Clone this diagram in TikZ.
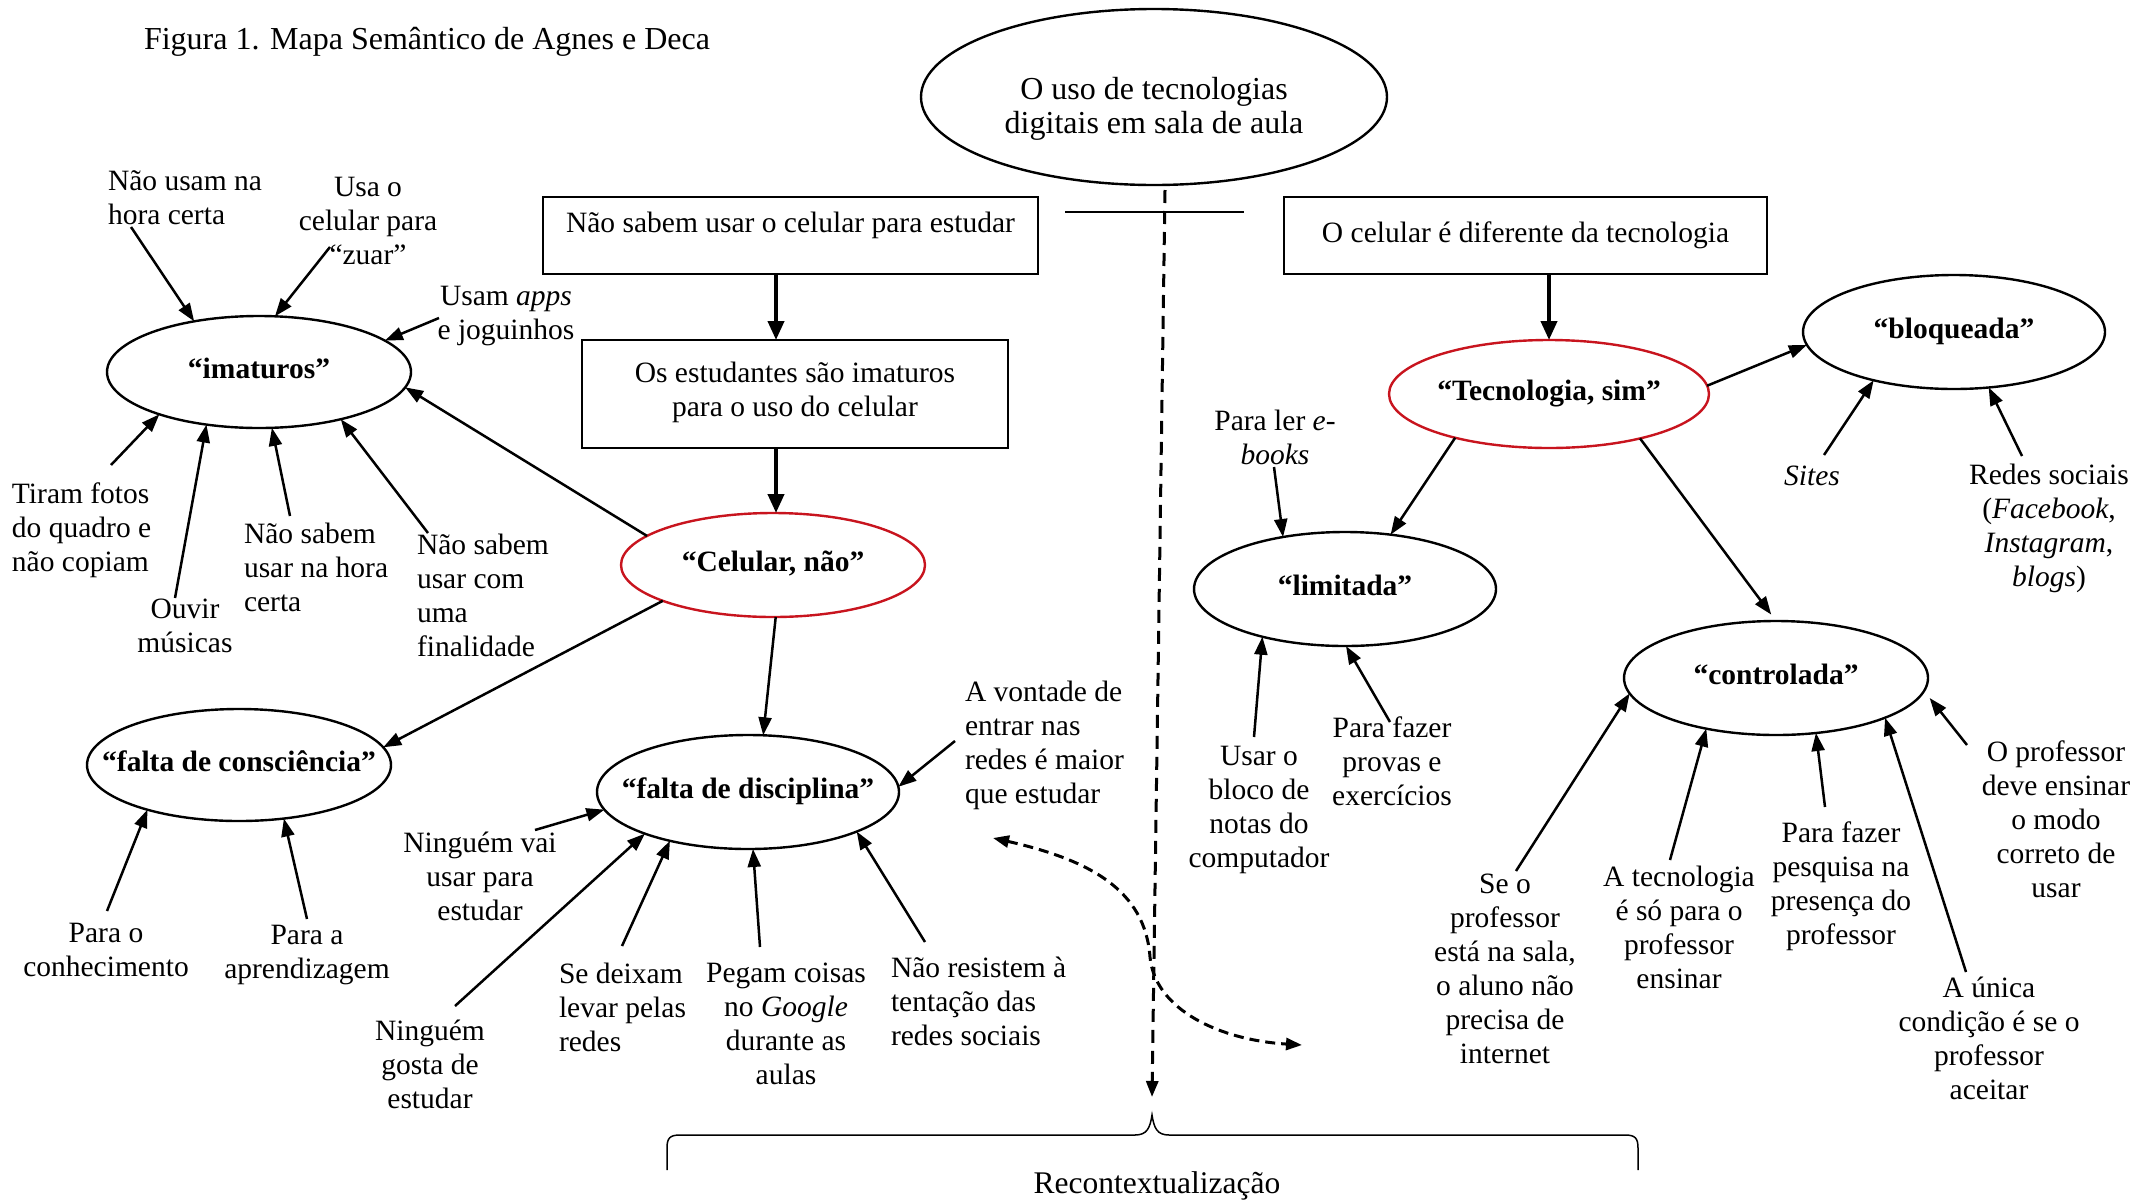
\documentclass[tikz,border=0pt]{standalone}
\usepackage{fontspec}
\setmainfont{Liberation Serif}
\usetikzlibrary{arrows.meta,shapes.geometric}

\definecolor{ovalred}{RGB}{200,20,30}

\begin{document}
\begin{tikzpicture}[x=1pt,y=-1pt,
  every node/.style={inner sep=0pt, outer sep=0pt},
  txt/.style={font=\fontsize{29.5}{34}\selectfont,
    execute at begin node=\strut, execute at end node=\strut},
  lbl/.style={txt, align=center, yshift=-4pt},
  lbll/.style={txt, align=left, anchor=west, yshift=-4pt},
  oval/.style={draw, line width=2.4pt, ellipse, txt,
    font=\fontsize{29.5}{34}\selectfont\bfseries},
  redoval/.style={oval, draw=ovalred},
  sbox/.style={draw, line width=2.4pt, rectangle, font=\fontsize{29.5}{34}\selectfont},
  arr/.style={line width=2.5pt, -{Triangle[length=18pt,width=13pt]}},
  bigarr/.style={line width=4pt, -{Triangle[length=19pt,width=16pt]}},
  dasharr/.style={line width=3pt, dash pattern=on 10pt off 6pt,
    {Triangle[length=16pt,width=12pt]}-{Triangle[length=16pt,width=12pt]}},
]

\fill[white] (0,0) rectangle (2152,1200);
\useasboundingbox (0,0) rectangle (2152,1200);

% caption
\node[anchor=west, font=\fontsize{32}{36}\selectfont] (title) at (144,42)
  {Figura 1. Mapa Semântico de Agnes e Deca};

% central theme
\node[draw, line width=2.4pt, ellipse, minimum width=466, minimum height=176]
  (top) at (1154,97) {};
\node[lbl, font=\fontsize{32}{34}\selectfont] (toptxt) at (1154,106)
  {O uso de tecnologias\\digitais em sala de aula};

\coordinate (sepL) at (1065,212);
\coordinate (sepR) at (1244,212);
\draw[line width=2.2pt] (sepL) -- (sepR);

% statement boxes
\node[sbox, minimum width=495, minimum height=77, text height=20pt, text depth=26pt]
  (b1) at (790.5,235.5) {Não sabem usar o celular para estudar};
\node[sbox, minimum width=426, minimum height=108, txt, align=center]
  (b2) at (795,394) {Os estudantes são imaturos\\para o uso do celular};
\node[sbox, minimum width=483, minimum height=77, txt]
  (b3) at (1525.5,235.5) {O celular é diferente da tecnologia};

% category ovals
\node[oval, minimum width=304, minimum height=112] (imat) at (259,372) {\makebox[0pt]{“imaturos”}};
\node[redoval, minimum width=304, minimum height=104] (cel) at (773,565) {\makebox[0pt]{“Celular, não”}};
\node[oval, minimum width=304, minimum height=112] (consc) at (239,765) {\makebox[0pt]{“falta de consciência”}};
\node[oval, minimum width=302, minimum height=114] (disc) at (748,792) {\makebox[0pt]{“falta de disciplina”}};
\node[redoval, minimum width=320, minimum height=108] (tec) at (1549,394) {\makebox[0pt]{“Tecnologia, sim”}};
\node[oval, minimum width=302, minimum height=114] (bloq) at (1954,332) {\makebox[0pt]{“bloqueada”}};
\node[oval, minimum width=302, minimum height=114] (lim) at (1345,589) {\makebox[0pt]{“limitada”}};
\node[oval, minimum width=304, minimum height=114] (ctrl) at (1776,678) {\makebox[0pt]{“controlada”}};

% descriptors
\node[lbll] (nusam) at (108,199) {Não usam na\\hora certa};
\node[lbl] (usao) at (368,222) {Usa o\\celular para\\“zuar”};
\node[lbl] (apps) at (506,314) {Usam \textit{apps}\\e joguinhos};
\node[lbll] (fotos) at (12,528) {Tiram fotos\\do quadro e\\não copiam};
\node[lbl] (ouvir) at (185,627) {Ouvir\\músicas};
\node[lbll] (nsab1) at (244,568) {Não sabem\\usar na hora\\certa};
\node[lbll] (nsab2) at (417,596) {Não sabem\\usar com\\uma\\finalidade};
\node[lbl] (parao) at (106,951) {Para o\\conhecimento};
\node[lbl] (paraa) at (307,953) {Para a\\aprendizagem};
\node[lbll] (vont) at (965,743) {A vontade de\\entrar nas\\redes é maior\\que estudar};
\node[lbl] (ningv) at (480,877) {Ninguém vai\\usar para\\estudar};
\node[lbl] (ningg) at (430,1065) {Ninguém\\gosta de\\estudar};
\node[lbll] (deix) at (559,1008) {Se deixam\\levar pelas\\redes};
\node[lbl] (pegam) at (786,1025) {Pegam coisas\\no \textit{Google}\\durante as\\aulas};
\node[lbll] (resist) at (891,1002) {Não resistem à\\tentação das\\redes sociais};
\node[lbl] (ebooks) at (1275,438) {Para ler \textit{e-}\\\textit{books}};
\node[lbl] (bloco) at (1259,808) {Usar o\\bloco de\\notas do\\computador};
\node[lbl] (provas) at (1392,762) {Para fazer\\provas e\\exercícios};
\node[lbl] (sites) at (1812,475) {\textit{Sites}};
\node[lbl] (redes) at (2049,526) {Redes sociais\\(\textit{Facebook},\\\textit{Instagram},\\\textit{blogs})};
\node[lbl] (seo) at (1505,970) {Se o\\professor\\está na sala,\\o aluno não\\precisa de\\internet};
\node[lbl] (atec) at (1679,928) {A tecnologia\\é só para o\\professor\\ensinar};
\node[lbl] (pesq) at (1841,884) {Para fazer\\pesquisa na\\presença do\\professor};
\node[lbl] (unica) at (1989,1039) {A única\\condição é se o\\professor\\aceitar};
\node[lbl] (oprof) at (2056,820) {O professor\\deve ensinar\\o modo\\correto de\\usar};

% main flow
\draw[bigarr] ([xshift=3pt]cel.north |- b1.south) -- ([xshift=3pt]cel.north |- b2.north);
\draw[bigarr] ([xshift=3pt]cel.north |- b2.south) -- ([xshift=3pt]cel.north);
\draw[bigarr] (tec.north |- b3.south) -- (tec.north);

% left branch
\draw[arr] ([shift={(23,24)}]nusam.west) -- (imat.142.6);
\draw[arr] ([shift={(-38,21)}]usao.center) -- (imat.74);
\draw[arr] ([shift={(-67,0)}]apps.center) -- (imat.14.6);
\draw[arr] (cel.167.7) -- (imat.-6);
\draw[arr] ([shift={(99,-67)}]fotos.west) -- (imat.203);
\draw[arr] ([shift={(-10,-33)}]ouvir.center) -- (imat.225);
\draw[arr] ([shift={(46,-56)}]nsab1.west) -- (imat.283);
\draw[arr] ([shift={(11,-67)}]nsab2.west) -- (imat.330);
\draw[arr] (cel.198.7) -- (consc.7.6);
\draw[arr] (cel.273.3) -- (disc.75);
\draw[arr] ([shift={(1,-44)}]parao.center) -- (consc.206.6);
\draw[arr] ([shift={(0,-38)}]paraa.center) -- (consc.310);
\draw[arr] ([shift={(-10,-6)}]vont.west) -- (disc.2.6);
\draw[arr] ([shift={(55,-51)}]ningv.center) -- (disc.187);
\draw[arr] ([shift={(25,-63)}]ningg.center) -- (disc.202);
\draw[arr] ([shift={(63,-66)}]deix.west) -- (disc.212.5);
\draw[arr] ([shift={(-26,-82)}]pegam.center) -- (disc.275);
\draw[arr] ([shift={(34,-64)}]resist.west) -- (disc.340);

% right branch
\draw[arr] (tec.3) -- (bloq.185);
\draw[arr] (tec.205.6) -- (lim.50);
\draw[arr, shorten >=8pt] (tec.334) -- (ctrl.90);
\draw[arr] ([shift={(12,-24)}]sites.center) -- (bloq.211);
\draw[arr] ([shift={(-27,-74)}]redes.center) -- (bloq.302);
\draw[arr] ([shift={(-1,25)}]ebooks.center) -- (lim.140);
\draw[arr] ([shift={(-5,-75)}]bloco.center) -- (lim.210);
\draw[arr] ([shift={(-2,-44)}]provas.center) -- (lim.271);
\draw[arr] ([shift={(11,-103)}]seo.center) -- (ctrl.186);
\draw[arr] ([shift={(-9,-72)}]atec.center) -- (ctrl.216);
\draw[arr] ([shift={(-16,-81)}]pesq.center) -- (ctrl.306);
\draw[arr] ([shift={(-23,-71)}]unica.center) -- (ctrl.340);
\draw[arr, shorten >=9pt] ([shift={(-89,-79)}]oprof.center) -- (ctrl.-5);

% recontextualisation brace
\coordinate (rc) at (1152,1115);
\draw[line width=1.5pt] (667,1170) -- (667,1148)
  .. controls (667,1138) and (670,1135) .. (680,1135) -- (1135,1135)
  .. controls (1147,1135) and (1150,1128) .. (rc)
  .. controls (1154,1128) and (1157,1135) .. (1169,1135) -- (1625,1135)
  .. controls (1635,1135) and (1638,1138) .. (1638,1148) -- (1638,1170);
\node[lbl, font=\fontsize{31.5}{34}\selectfont] (recon) at (1157,1183) {Recontextualização};

\draw[line width=3pt, dash pattern=on 13pt off 8pt, -{Triangle[length=16pt,width=12pt]}]
  ([shift={(11,5)}]top.south) -- ([shift={(0,-18)}]rc);

% two-way link between the branches
\coordinate (cvA) at (993,838);
\coordinate (cvM) at (1150,957);
\coordinate (cvB) at (1302,1045);
\draw[dasharr] (cvA) .. controls +(97,22) and +(-5,-67) .. (cvM)
  .. controls +(5,53) and +(-82,-5) .. (cvB);

\end{tikzpicture}
\end{document}
